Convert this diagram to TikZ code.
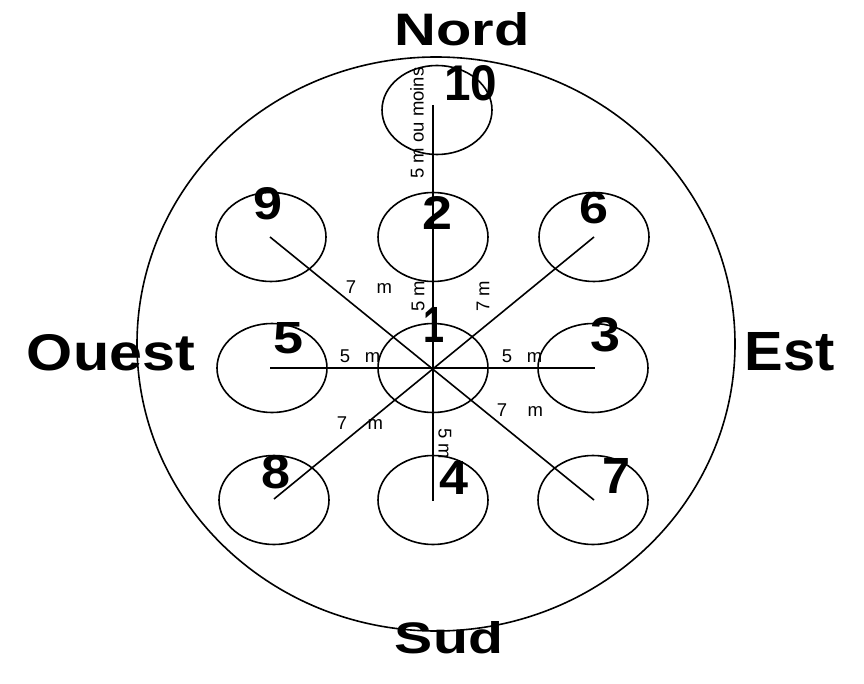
\documentclass[tikz,border=0pt]{standalone}
\usepackage{fontspec}
\setmainfont{Liberation Sans}
\usetikzlibrary{shapes.geometric}
\newcommand{\bigtxt}[3]{\resizebox{#1pt}{#2pt}{\bfseries #3}}
\tikzset{
  spot/.style={draw, ellipse, line width=1.6pt, minimum width=110pt, minimum height=89pt, inner sep=0pt},
  ray/.style={line width=1.6pt},
  big/.style={inner sep=0pt},
  dist/.style={inner sep=0pt, font=\fontsize{18.5}{18.5}\selectfont}
}
\begin{document}
\begin{tikzpicture}[x=1pt,y=-1pt]
\useasboundingbox (0,0) rectangle (864,684);
\fill[white] (0,0) rectangle (864,684);
% outer field
\draw[line width=1.6pt] (436,344) ellipse [x radius=299, y radius=287];
% plots
\node[spot] (c10) at (437,110) {};
\node[spot] (c2) at (433,237) {};
\node[spot] (c9) at (271,237) {};
\node[spot] (c6) at (594,237) {};
\node[spot] (c5) at (272,368) {};
\node[spot] (c1) at (433,368) {};
\node[spot] (c3) at (593,368) {};
\node[spot] (c8) at (274,500) {};
\node[spot] (c4) at (433,500) {};
\node[spot] (c7) at (593,500) {};
\coordinate (top) at (433,105);
\coordinate (l5) at (270,368);
\coordinate (r3) at (595,368);
\coordinate (e9) at (270,237);
\coordinate (e6) at (594,237);
\coordinate (e8) at (274,499);
\coordinate (e7) at (594,500);
\coordinate (b4) at (433,501);
% rays
\draw[ray] (top) -- (b4);
\draw[ray] (l5) -- (r3);
\draw[ray] (e9) -- (e7);
\draw[ray] (e8) -- (e6);
% directions
\node[big] (nord) at (462,29) {\bigtxt{135}{33}{Nord}};
\node[big] (sud) at (449,638) {\bigtxt{108}{32}{Sud}};
\node[big] (ouest) at (111,353) {\bigtxt{168}{36}{Ouest}};
\node[big] (est) at (790,352) {\bigtxt{90}{38}{Est}};
% numbers
\node[big] (n10) at (471,83) {\bigtxt{53}{35}{10}};
\node[big] (n2) at (437,213) {\bigtxt{30}{33}{2}};
\node[big] (n9) at (268,204) {\bigtxt{29}{32}{9}};
\node[big] (n6) at (594,208) {\bigtxt{29}{31}{6}};
\node[big] (n5) at (288,338) {\bigtxt{30}{31}{5}};
\node[big] (n1) at (434,325) {\bigtxt{21}{35}{1}};
\node[big] (n3) at (605,335) {\bigtxt{30}{34}{3}};
\node[big] (n8) at (276,472) {\bigtxt{29}{33}{8}};
\node[big] (n4) at (454,478) {\bigtxt{29}{33}{4}};
\node[big] (n7) at (616,476) {\bigtxt{28}{35}{7}};
% distances
\node[dist] (d10) at (417,123) [rotate=90] {5 m ou moins};
\node[dist] (du) at (418,296) [rotate=90] {5 m};
\node[dist] (dur) at (483,296) [rotate=90] {7 m};
\node[dist] (dd) at (445,444) [rotate=-90] {5 m};
\node[dist] (dul) at (369,287) {7\hspace{1.1em}m};
\node[dist] (dl) at (360,356) {5\hspace{0.8em}m};
\node[dist] (dr) at (522,356) {5\hspace{0.8em}m};
\node[dist] (dlr) at (520,410) {7\hspace{1.1em}m};
\node[dist] (dll) at (360,423) {7\hspace{1.1em}m};
\end{tikzpicture}
\end{document}
